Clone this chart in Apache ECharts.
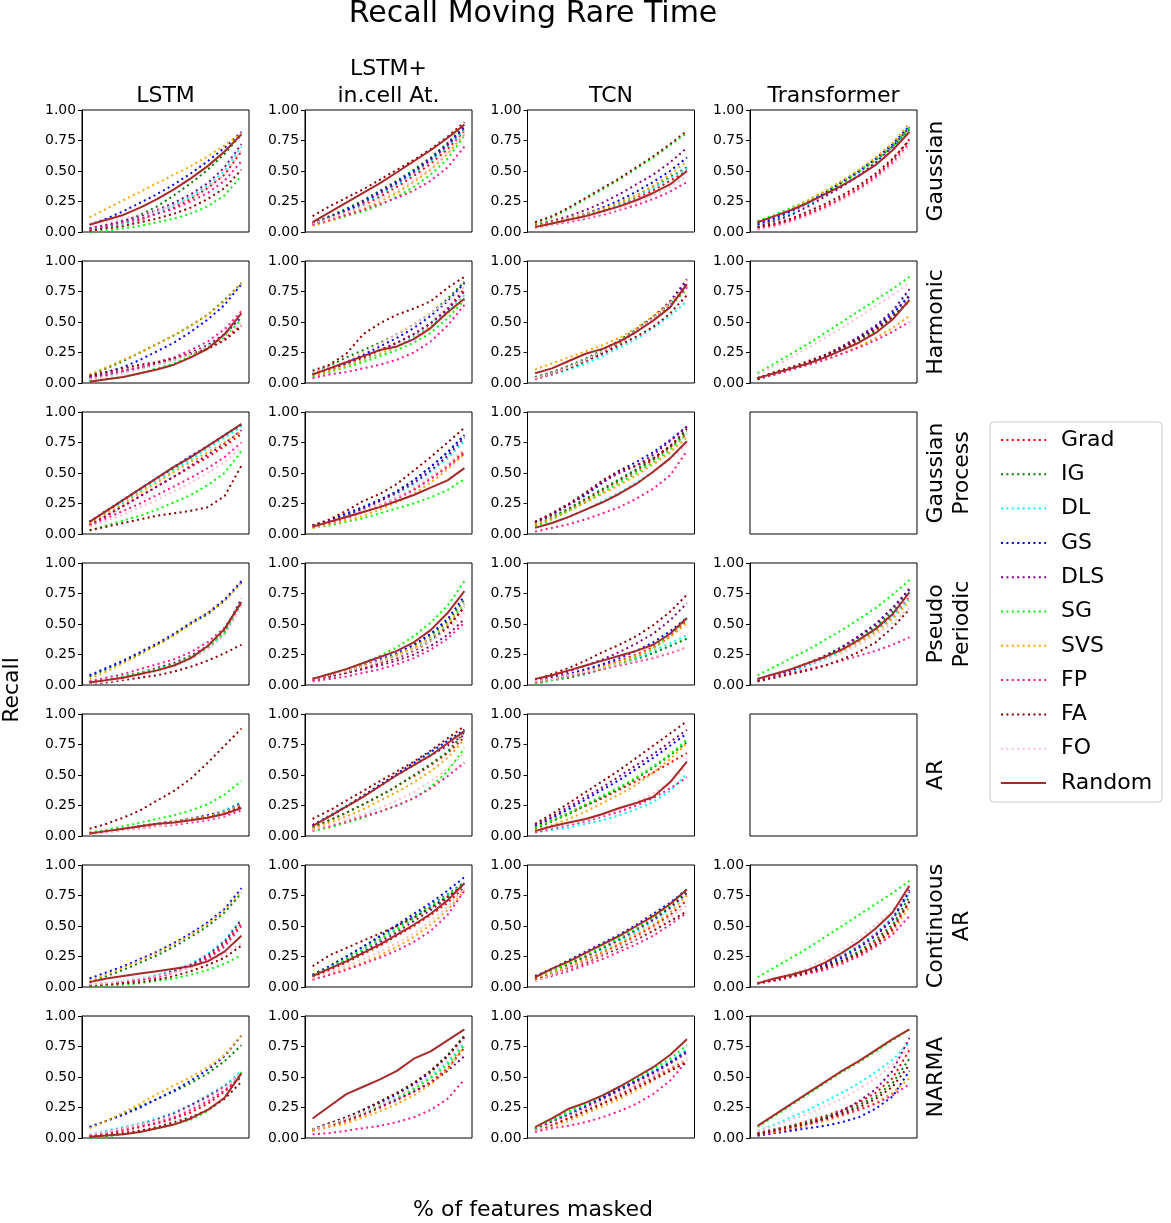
<!DOCTYPE html>
<html>
<head>
<meta charset="utf-8">
<title>Recall Moving Rare Time</title>
<script src="https://cdn.jsdelivr.net/npm/echarts@6/dist/echarts.min.js"></script>
<style>
  html, body { margin: 0; padding: 0; background: #fff; }
  #chart { width: 1171px; height: 1223px; }
</style>
</head>
<body>
<div id="chart"></div>
<script>
// methods, in legend order (each panel array below follows this order)
const methods = ['Grad', 'IG', 'DL', 'GS', 'DLS', 'SG', 'SVS', 'FP', 'FA', 'FO', 'Random']
const methodColors = ['#ff0000', '#008000', '#00ffff', '#0000ff', '#800080', '#00ff00', '#ffa500', '#ff1493', '#8b0000', '#ffc0cb', '#a52a2a']
const models = ['LSTM', 'LSTM+\nin.cell At.', 'TCN', 'Transformer']
const datasets = ['Gaussian', 'Harmonic', 'Gaussian\nProcess', 'Pseudo\nPeriodic', 'AR', 'Continuous\nAR', 'NARMA']
// masking steps along the (unlabelled) x axis
const maskSteps = [1, 2, 3, 4, 5, 6, 7, 8, 9, 10]
const yTicks = [0, 0.25, 0.5, 0.75, 1]

// ---- Gaussian ----
const lstmGaussian = [
    [0.02, 0.04, 0.07, 0.10, 0.15, 0.20, 0.27, 0.36, 0.47, 0.66],
    [0.02, 0.05, 0.09, 0.14, 0.21, 0.30, 0.40, 0.51, 0.64, 0.80],
    [0.02, 0.04, 0.07, 0.11, 0.16, 0.22, 0.29, 0.38, 0.50, 0.70],
    [0.06, 0.11, 0.17, 0.24, 0.31, 0.39, 0.48, 0.58, 0.69, 0.82],
    [0.03, 0.06, 0.09, 0.13, 0.18, 0.24, 0.31, 0.40, 0.53, 0.72],
    [0.00, 0.01, 0.03, 0.05, 0.08, 0.11, 0.15, 0.21, 0.30, 0.46],
    [0.12, 0.19, 0.26, 0.33, 0.40, 0.47, 0.54, 0.62, 0.71, 0.81],
    [0.03, 0.05, 0.08, 0.11, 0.15, 0.19, 0.25, 0.32, 0.42, 0.58],
    [0.01, 0.03, 0.05, 0.08, 0.11, 0.15, 0.20, 0.27, 0.36, 0.51],
    [0.07, 0.09, 0.11, 0.14, 0.18, 0.22, 0.28, 0.36, 0.47, 0.67],
    [0.06, 0.10, 0.14, 0.20, 0.27, 0.35, 0.44, 0.54, 0.66, 0.80]
]
const attnGaussian = [
    [0.06, 0.11, 0.16, 0.22, 0.29, 0.37, 0.46, 0.56, 0.68, 0.83],
    [0.07, 0.13, 0.19, 0.26, 0.34, 0.42, 0.51, 0.61, 0.73, 0.87],
    [0.06, 0.11, 0.17, 0.23, 0.31, 0.39, 0.48, 0.58, 0.70, 0.84],
    [0.07, 0.12, 0.18, 0.25, 0.33, 0.41, 0.50, 0.60, 0.72, 0.86],
    [0.07, 0.12, 0.17, 0.24, 0.32, 0.40, 0.49, 0.59, 0.71, 0.85],
    [0.06, 0.09, 0.13, 0.17, 0.22, 0.29, 0.37, 0.47, 0.60, 0.79],
    [0.05, 0.09, 0.14, 0.19, 0.25, 0.32, 0.41, 0.51, 0.64, 0.80],
    [0.06, 0.10, 0.14, 0.18, 0.23, 0.28, 0.34, 0.42, 0.53, 0.70],
    [0.13, 0.21, 0.28, 0.35, 0.43, 0.51, 0.59, 0.68, 0.78, 0.90],
    [0.07, 0.11, 0.16, 0.21, 0.27, 0.34, 0.42, 0.52, 0.65, 0.81],
    [0.08, 0.16, 0.24, 0.32, 0.40, 0.49, 0.58, 0.67, 0.77, 0.88]
]
const tcnGaussian = [
    [0.04, 0.06, 0.09, 0.13, 0.17, 0.22, 0.28, 0.34, 0.42, 0.50],
    [0.05, 0.07, 0.10, 0.14, 0.19, 0.24, 0.30, 0.37, 0.45, 0.53],
    [0.05, 0.07, 0.10, 0.14, 0.18, 0.23, 0.29, 0.36, 0.44, 0.52],
    [0.05, 0.08, 0.11, 0.15, 0.20, 0.26, 0.33, 0.41, 0.50, 0.61],
    [0.06, 0.09, 0.13, 0.18, 0.24, 0.31, 0.39, 0.47, 0.57, 0.69],
    [0.07, 0.12, 0.19, 0.27, 0.35, 0.43, 0.52, 0.61, 0.71, 0.81],
    [0.05, 0.08, 0.11, 0.15, 0.19, 0.24, 0.30, 0.38, 0.47, 0.58],
    [0.03, 0.06, 0.08, 0.11, 0.14, 0.18, 0.22, 0.27, 0.33, 0.41],
    [0.08, 0.13, 0.20, 0.28, 0.36, 0.44, 0.53, 0.62, 0.72, 0.83],
    [0.03, 0.06, 0.09, 0.12, 0.15, 0.19, 0.24, 0.30, 0.37, 0.46],
    [0.04, 0.07, 0.10, 0.13, 0.17, 0.21, 0.26, 0.32, 0.39, 0.50]
]
const trfGaussian = [
    [0.03, 0.06, 0.10, 0.15, 0.21, 0.28, 0.36, 0.46, 0.59, 0.76],
    [0.07, 0.12, 0.18, 0.25, 0.32, 0.40, 0.49, 0.59, 0.70, 0.84],
    [0.05, 0.10, 0.15, 0.22, 0.30, 0.38, 0.47, 0.57, 0.69, 0.84],
    [0.06, 0.11, 0.17, 0.24, 0.32, 0.41, 0.50, 0.60, 0.72, 0.87],
    [0.04, 0.09, 0.14, 0.21, 0.29, 0.37, 0.46, 0.57, 0.70, 0.86],
    [0.09, 0.14, 0.20, 0.26, 0.33, 0.41, 0.50, 0.59, 0.71, 0.85],
    [0.08, 0.13, 0.19, 0.26, 0.34, 0.42, 0.51, 0.61, 0.73, 0.89],
    [0.02, 0.05, 0.09, 0.14, 0.20, 0.27, 0.35, 0.45, 0.57, 0.73],
    [0.04, 0.07, 0.11, 0.17, 0.23, 0.30, 0.38, 0.48, 0.60, 0.75],
    [0.02, 0.04, 0.08, 0.13, 0.19, 0.26, 0.34, 0.43, 0.55, 0.70],
    [0.08, 0.13, 0.18, 0.24, 0.31, 0.38, 0.46, 0.55, 0.67, 0.82]
]

// ---- Harmonic ----
const lstmHarmonic = [
    [0.03, 0.06, 0.09, 0.12, 0.15, 0.19, 0.24, 0.29, 0.37, 0.47],
    [0.06, 0.12, 0.18, 0.25, 0.32, 0.39, 0.47, 0.56, 0.68, 0.82],
    [0.04, 0.06, 0.09, 0.12, 0.15, 0.19, 0.24, 0.31, 0.40, 0.53],
    [0.05, 0.09, 0.13, 0.19, 0.26, 0.33, 0.42, 0.52, 0.64, 0.81],
    [0.05, 0.07, 0.10, 0.13, 0.16, 0.20, 0.25, 0.31, 0.40, 0.54],
    [0.02, 0.03, 0.05, 0.08, 0.12, 0.16, 0.22, 0.29, 0.38, 0.52],
    [0.07, 0.13, 0.19, 0.25, 0.32, 0.39, 0.47, 0.56, 0.67, 0.82],
    [0.04, 0.07, 0.10, 0.13, 0.17, 0.21, 0.27, 0.34, 0.44, 0.59],
    [0.06, 0.09, 0.12, 0.15, 0.17, 0.20, 0.24, 0.28, 0.35, 0.46],
    [0.03, 0.05, 0.08, 0.11, 0.15, 0.19, 0.24, 0.30, 0.38, 0.50],
    [0.01, 0.03, 0.05, 0.08, 0.11, 0.15, 0.21, 0.28, 0.40, 0.57]
]
const attnHarmonic = [
    [0.07, 0.11, 0.16, 0.21, 0.27, 0.33, 0.40, 0.49, 0.61, 0.77],
    [0.08, 0.14, 0.21, 0.27, 0.33, 0.40, 0.48, 0.57, 0.69, 0.83],
    [0.06, 0.10, 0.15, 0.19, 0.24, 0.30, 0.38, 0.47, 0.58, 0.72],
    [0.07, 0.12, 0.17, 0.23, 0.30, 0.37, 0.45, 0.55, 0.67, 0.82],
    [0.07, 0.11, 0.16, 0.21, 0.27, 0.33, 0.40, 0.49, 0.60, 0.75],
    [0.05, 0.09, 0.13, 0.17, 0.22, 0.27, 0.33, 0.41, 0.53, 0.68],
    [0.06, 0.10, 0.14, 0.19, 0.24, 0.30, 0.37, 0.46, 0.57, 0.70],
    [0.04, 0.07, 0.09, 0.12, 0.15, 0.19, 0.25, 0.34, 0.47, 0.64],
    [0.10, 0.15, 0.24, 0.40, 0.49, 0.56, 0.61, 0.67, 0.78, 0.87],
    [0.08, 0.13, 0.18, 0.25, 0.32, 0.40, 0.48, 0.57, 0.67, 0.79],
    [0.07, 0.12, 0.17, 0.22, 0.27, 0.30, 0.36, 0.45, 0.58, 0.69]
]
const tcnHarmonic = [
    [0.04, 0.08, 0.13, 0.19, 0.26, 0.34, 0.43, 0.53, 0.64, 0.79],
    [0.05, 0.09, 0.14, 0.20, 0.27, 0.35, 0.44, 0.54, 0.65, 0.80],
    [0.04, 0.07, 0.11, 0.16, 0.22, 0.29, 0.36, 0.45, 0.55, 0.67],
    [0.04, 0.08, 0.13, 0.19, 0.26, 0.34, 0.43, 0.53, 0.66, 0.82],
    [0.04, 0.08, 0.13, 0.19, 0.26, 0.34, 0.43, 0.54, 0.67, 0.85],
    [0.04, 0.08, 0.13, 0.19, 0.26, 0.33, 0.42, 0.52, 0.63, 0.77],
    [0.11, 0.16, 0.21, 0.26, 0.31, 0.37, 0.45, 0.55, 0.66, 0.80],
    [0.03, 0.07, 0.12, 0.18, 0.25, 0.33, 0.42, 0.52, 0.64, 0.78],
    [0.04, 0.08, 0.12, 0.18, 0.24, 0.31, 0.38, 0.46, 0.57, 0.72],
    [0.04, 0.08, 0.13, 0.19, 0.26, 0.34, 0.43, 0.53, 0.65, 0.80],
    [0.08, 0.12, 0.18, 0.24, 0.28, 0.34, 0.42, 0.51, 0.62, 0.81]
]
const trfHarmonic = [
    [0.04, 0.08, 0.12, 0.17, 0.22, 0.28, 0.36, 0.45, 0.56, 0.72],
    [0.04, 0.08, 0.12, 0.16, 0.21, 0.27, 0.34, 0.43, 0.54, 0.68],
    [0.04, 0.08, 0.12, 0.17, 0.22, 0.29, 0.37, 0.46, 0.58, 0.75],
    [0.03, 0.07, 0.11, 0.16, 0.22, 0.29, 0.37, 0.46, 0.57, 0.71],
    [0.04, 0.08, 0.12, 0.17, 0.23, 0.30, 0.38, 0.47, 0.59, 0.77],
    [0.08, 0.16, 0.24, 0.32, 0.41, 0.50, 0.59, 0.68, 0.77, 0.87],
    [0.04, 0.07, 0.11, 0.15, 0.19, 0.24, 0.30, 0.37, 0.45, 0.55],
    [0.04, 0.07, 0.11, 0.15, 0.19, 0.24, 0.29, 0.35, 0.42, 0.50],
    [0.04, 0.09, 0.13, 0.18, 0.23, 0.29, 0.36, 0.44, 0.54, 0.67],
    [0.07, 0.14, 0.21, 0.29, 0.37, 0.45, 0.54, 0.63, 0.72, 0.82],
    [0.04, 0.08, 0.12, 0.16, 0.21, 0.27, 0.33, 0.41, 0.52, 0.68]
]

// ---- Gaussian Process ----
const lstmGP = [
    [0.08, 0.15, 0.23, 0.31, 0.39, 0.47, 0.55, 0.63, 0.72, 0.82],
    [0.10, 0.19, 0.28, 0.37, 0.46, 0.54, 0.63, 0.72, 0.81, 0.89],
    [0.10, 0.18, 0.27, 0.35, 0.44, 0.52, 0.61, 0.70, 0.79, 0.88],
    [0.10, 0.19, 0.28, 0.37, 0.46, 0.55, 0.64, 0.72, 0.81, 0.90],
    [0.07, 0.15, 0.23, 0.31, 0.39, 0.47, 0.56, 0.65, 0.74, 0.85],
    [0.03, 0.07, 0.11, 0.15, 0.20, 0.26, 0.32, 0.40, 0.50, 0.68],
    [0.09, 0.17, 0.25, 0.34, 0.42, 0.51, 0.59, 0.67, 0.75, 0.84],
    [0.07, 0.13, 0.19, 0.25, 0.32, 0.39, 0.46, 0.54, 0.63, 0.75],
    [0.03, 0.06, 0.09, 0.12, 0.15, 0.17, 0.19, 0.22, 0.31, 0.56],
    [0.06, 0.11, 0.16, 0.22, 0.28, 0.35, 0.42, 0.50, 0.59, 0.71],
    [0.10, 0.19, 0.28, 0.37, 0.46, 0.55, 0.63, 0.72, 0.81, 0.90]
]
const attnGP = [
    [0.06, 0.10, 0.14, 0.19, 0.24, 0.30, 0.37, 0.46, 0.56, 0.68],
    [0.07, 0.11, 0.16, 0.22, 0.28, 0.35, 0.44, 0.55, 0.67, 0.81],
    [0.06, 0.10, 0.15, 0.21, 0.27, 0.33, 0.41, 0.51, 0.62, 0.76],
    [0.07, 0.11, 0.17, 0.22, 0.28, 0.35, 0.44, 0.55, 0.67, 0.81],
    [0.06, 0.10, 0.15, 0.21, 0.27, 0.34, 0.42, 0.52, 0.64, 0.79],
    [0.05, 0.07, 0.10, 0.13, 0.17, 0.21, 0.25, 0.30, 0.36, 0.45],
    [0.05, 0.08, 0.11, 0.15, 0.20, 0.26, 0.33, 0.42, 0.53, 0.66],
    [0.06, 0.09, 0.13, 0.18, 0.23, 0.29, 0.36, 0.45, 0.55, 0.66],
    [0.07, 0.12, 0.19, 0.27, 0.33, 0.41, 0.52, 0.63, 0.75, 0.87],
    [0.06, 0.10, 0.14, 0.19, 0.24, 0.30, 0.38, 0.47, 0.57, 0.70],
    [0.06, 0.10, 0.14, 0.18, 0.22, 0.27, 0.32, 0.38, 0.44, 0.54]
]
const tcnGP = [
    [0.07, 0.13, 0.20, 0.28, 0.36, 0.44, 0.52, 0.61, 0.71, 0.82],
    [0.08, 0.14, 0.21, 0.29, 0.37, 0.45, 0.53, 0.62, 0.72, 0.84],
    [0.05, 0.09, 0.14, 0.20, 0.27, 0.34, 0.42, 0.51, 0.62, 0.76],
    [0.10, 0.16, 0.24, 0.32, 0.42, 0.52, 0.59, 0.67, 0.77, 0.88],
    [0.09, 0.16, 0.24, 0.33, 0.43, 0.50, 0.56, 0.65, 0.76, 0.88],
    [0.06, 0.12, 0.19, 0.26, 0.34, 0.42, 0.50, 0.59, 0.69, 0.82],
    [0.08, 0.13, 0.19, 0.26, 0.33, 0.40, 0.48, 0.57, 0.67, 0.79],
    [0.02, 0.05, 0.08, 0.12, 0.17, 0.22, 0.29, 0.37, 0.48, 0.68],
    [0.10, 0.17, 0.25, 0.34, 0.44, 0.52, 0.56, 0.62, 0.72, 0.86],
    [0.05, 0.09, 0.14, 0.20, 0.26, 0.33, 0.41, 0.50, 0.61, 0.73],
    [0.05, 0.09, 0.14, 0.20, 0.26, 0.33, 0.41, 0.51, 0.62, 0.76]
]

// ---- Pseudo Periodic ----
const lstmPP = [
    [0.02, 0.04, 0.06, 0.09, 0.12, 0.16, 0.22, 0.30, 0.42, 0.67],
    [0.07, 0.13, 0.19, 0.26, 0.33, 0.41, 0.50, 0.58, 0.69, 0.84],
    [0.02, 0.04, 0.07, 0.10, 0.13, 0.17, 0.23, 0.30, 0.42, 0.68],
    [0.08, 0.14, 0.20, 0.27, 0.34, 0.42, 0.51, 0.59, 0.70, 0.85],
    [0.02, 0.04, 0.07, 0.10, 0.14, 0.18, 0.24, 0.32, 0.44, 0.71],
    [0.02, 0.04, 0.07, 0.10, 0.13, 0.17, 0.23, 0.31, 0.43, 0.69],
    [0.05, 0.11, 0.18, 0.25, 0.33, 0.41, 0.50, 0.59, 0.69, 0.84],
    [0.03, 0.06, 0.09, 0.13, 0.17, 0.21, 0.27, 0.35, 0.47, 0.67],
    [0.01, 0.02, 0.04, 0.06, 0.08, 0.11, 0.15, 0.20, 0.26, 0.33],
    [0.01, 0.03, 0.05, 0.08, 0.11, 0.15, 0.21, 0.29, 0.41, 0.64],
    [0.02, 0.04, 0.06, 0.09, 0.12, 0.16, 0.22, 0.32, 0.46, 0.68]
]
const attnPP = [
    [0.05, 0.07, 0.10, 0.14, 0.18, 0.23, 0.29, 0.37, 0.48, 0.64],
    [0.05, 0.08, 0.12, 0.16, 0.20, 0.25, 0.32, 0.41, 0.52, 0.70],
    [0.05, 0.08, 0.11, 0.15, 0.19, 0.24, 0.30, 0.38, 0.49, 0.66],
    [0.05, 0.08, 0.12, 0.16, 0.21, 0.26, 0.33, 0.42, 0.54, 0.73],
    [0.04, 0.07, 0.10, 0.13, 0.16, 0.20, 0.25, 0.32, 0.41, 0.54],
    [0.05, 0.09, 0.13, 0.18, 0.24, 0.31, 0.40, 0.51, 0.65, 0.85],
    [0.05, 0.08, 0.12, 0.16, 0.20, 0.25, 0.31, 0.39, 0.50, 0.67],
    [0.03, 0.05, 0.07, 0.10, 0.13, 0.17, 0.22, 0.29, 0.38, 0.51],
    [0.05, 0.07, 0.10, 0.14, 0.18, 0.22, 0.28, 0.36, 0.47, 0.64],
    [0.05, 0.08, 0.11, 0.15, 0.19, 0.23, 0.29, 0.36, 0.45, 0.59],
    [0.05, 0.09, 0.13, 0.18, 0.23, 0.28, 0.35, 0.45, 0.59, 0.77]
]
const tcnPP = [
    [0.02, 0.05, 0.08, 0.12, 0.16, 0.20, 0.25, 0.31, 0.40, 0.53],
    [0.01, 0.04, 0.06, 0.09, 0.13, 0.17, 0.21, 0.26, 0.32, 0.38],
    [0.02, 0.04, 0.07, 0.10, 0.14, 0.18, 0.22, 0.28, 0.34, 0.41],
    [0.03, 0.06, 0.09, 0.13, 0.17, 0.22, 0.28, 0.35, 0.44, 0.55],
    [0.03, 0.07, 0.11, 0.16, 0.21, 0.27, 0.34, 0.42, 0.53, 0.67],
    [0.01, 0.04, 0.07, 0.10, 0.14, 0.18, 0.23, 0.30, 0.40, 0.54],
    [0.02, 0.05, 0.08, 0.11, 0.15, 0.19, 0.24, 0.30, 0.39, 0.51],
    [0.02, 0.05, 0.07, 0.10, 0.13, 0.16, 0.19, 0.22, 0.26, 0.31],
    [0.04, 0.09, 0.14, 0.20, 0.27, 0.33, 0.40, 0.49, 0.60, 0.74],
    [0.03, 0.05, 0.08, 0.11, 0.14, 0.17, 0.20, 0.23, 0.27, 0.31],
    [0.05, 0.08, 0.12, 0.16, 0.20, 0.24, 0.28, 0.33, 0.42, 0.55]
]
const trfPP = [
    [0.04, 0.08, 0.12, 0.17, 0.22, 0.29, 0.36, 0.45, 0.56, 0.72],
    [0.05, 0.09, 0.13, 0.18, 0.24, 0.31, 0.39, 0.48, 0.60, 0.76],
    [0.03, 0.07, 0.11, 0.16, 0.21, 0.28, 0.36, 0.45, 0.56, 0.71],
    [0.04, 0.08, 0.12, 0.17, 0.23, 0.31, 0.40, 0.50, 0.63, 0.78],
    [0.04, 0.08, 0.13, 0.18, 0.24, 0.31, 0.40, 0.50, 0.63, 0.79],
    [0.08, 0.15, 0.22, 0.29, 0.37, 0.45, 0.54, 0.63, 0.74, 0.86],
    [0.05, 0.09, 0.13, 0.18, 0.23, 0.28, 0.35, 0.43, 0.54, 0.69],
    [0.04, 0.07, 0.10, 0.13, 0.16, 0.20, 0.24, 0.28, 0.33, 0.39],
    [0.03, 0.06, 0.09, 0.12, 0.16, 0.21, 0.27, 0.35, 0.47, 0.62],
    [0.05, 0.09, 0.13, 0.17, 0.21, 0.26, 0.33, 0.41, 0.51, 0.63],
    [0.05, 0.09, 0.13, 0.18, 0.23, 0.29, 0.37, 0.46, 0.58, 0.76]
]

// ---- AR ----
const lstmAR = [
    [0.02, 0.04, 0.06, 0.07, 0.09, 0.11, 0.13, 0.15, 0.18, 0.24],
    [0.02, 0.04, 0.06, 0.08, 0.10, 0.12, 0.14, 0.16, 0.19, 0.25],
    [0.02, 0.04, 0.06, 0.08, 0.10, 0.12, 0.14, 0.17, 0.21, 0.28],
    [0.02, 0.04, 0.06, 0.08, 0.10, 0.12, 0.14, 0.17, 0.20, 0.27],
    [0.02, 0.04, 0.06, 0.08, 0.10, 0.12, 0.14, 0.16, 0.19, 0.25],
    [0.03, 0.05, 0.08, 0.11, 0.14, 0.17, 0.21, 0.26, 0.34, 0.45],
    [0.02, 0.04, 0.06, 0.08, 0.10, 0.12, 0.14, 0.16, 0.20, 0.26],
    [0.02, 0.03, 0.05, 0.06, 0.08, 0.09, 0.11, 0.13, 0.16, 0.21],
    [0.06, 0.10, 0.15, 0.21, 0.29, 0.37, 0.47, 0.60, 0.74, 0.88],
    [0.01, 0.03, 0.05, 0.06, 0.08, 0.10, 0.12, 0.14, 0.17, 0.23],
    [0.02, 0.04, 0.06, 0.08, 0.10, 0.11, 0.13, 0.15, 0.18, 0.23]
]
const attnAR = [
    [0.07, 0.13, 0.19, 0.26, 0.33, 0.41, 0.49, 0.58, 0.68, 0.81],
    [0.07, 0.13, 0.19, 0.26, 0.33, 0.41, 0.50, 0.59, 0.69, 0.85],
    [0.09, 0.17, 0.25, 0.33, 0.42, 0.50, 0.59, 0.68, 0.77, 0.86],
    [0.09, 0.16, 0.24, 0.33, 0.42, 0.51, 0.60, 0.69, 0.78, 0.87],
    [0.09, 0.16, 0.24, 0.33, 0.41, 0.50, 0.58, 0.66, 0.74, 0.83],
    [0.04, 0.07, 0.11, 0.15, 0.20, 0.25, 0.31, 0.40, 0.53, 0.72],
    [0.06, 0.11, 0.16, 0.22, 0.29, 0.36, 0.44, 0.53, 0.64, 0.79],
    [0.05, 0.08, 0.12, 0.16, 0.20, 0.25, 0.31, 0.39, 0.49, 0.60],
    [0.14, 0.21, 0.29, 0.37, 0.45, 0.53, 0.61, 0.70, 0.80, 0.90],
    [0.05, 0.09, 0.13, 0.18, 0.23, 0.29, 0.36, 0.45, 0.55, 0.68],
    [0.08, 0.16, 0.24, 0.32, 0.41, 0.50, 0.58, 0.66, 0.76, 0.86]
]
const tcnAR = [
    [0.08, 0.13, 0.19, 0.25, 0.31, 0.38, 0.45, 0.52, 0.60, 0.68],
    [0.06, 0.12, 0.18, 0.25, 0.32, 0.39, 0.47, 0.56, 0.66, 0.77],
    [0.03, 0.05, 0.07, 0.10, 0.13, 0.17, 0.22, 0.28, 0.37, 0.51],
    [0.08, 0.15, 0.22, 0.30, 0.38, 0.46, 0.55, 0.64, 0.74, 0.84],
    [0.09, 0.16, 0.24, 0.32, 0.40, 0.49, 0.58, 0.67, 0.77, 0.87],
    [0.07, 0.13, 0.19, 0.26, 0.33, 0.40, 0.48, 0.57, 0.67, 0.79],
    [0.05, 0.09, 0.14, 0.20, 0.27, 0.34, 0.42, 0.52, 0.63, 0.76],
    [0.03, 0.06, 0.09, 0.12, 0.16, 0.20, 0.25, 0.31, 0.39, 0.48],
    [0.10, 0.18, 0.27, 0.36, 0.45, 0.54, 0.64, 0.74, 0.84, 0.94],
    [0.04, 0.07, 0.10, 0.13, 0.17, 0.22, 0.28, 0.35, 0.44, 0.57],
    [0.04, 0.08, 0.11, 0.14, 0.18, 0.23, 0.27, 0.32, 0.44, 0.61]
]

// ---- Continuous AR ----
const lstmCAR = [
    [0.01, 0.02, 0.04, 0.06, 0.08, 0.12, 0.17, 0.24, 0.35, 0.52],
    [0.04, 0.09, 0.14, 0.20, 0.26, 0.33, 0.41, 0.50, 0.61, 0.77],
    [0.02, 0.03, 0.05, 0.07, 0.10, 0.14, 0.19, 0.27, 0.38, 0.56],
    [0.07, 0.12, 0.17, 0.23, 0.29, 0.36, 0.44, 0.53, 0.64, 0.81],
    [0.01, 0.02, 0.04, 0.06, 0.09, 0.13, 0.18, 0.26, 0.37, 0.55],
    [0.00, 0.01, 0.02, 0.03, 0.05, 0.07, 0.10, 0.14, 0.19, 0.26],
    [0.05, 0.10, 0.16, 0.22, 0.28, 0.35, 0.43, 0.52, 0.63, 0.78],
    [0.02, 0.03, 0.04, 0.06, 0.08, 0.12, 0.16, 0.23, 0.33, 0.50],
    [0.01, 0.02, 0.03, 0.04, 0.06, 0.09, 0.13, 0.18, 0.24, 0.34],
    [0.02, 0.03, 0.05, 0.07, 0.09, 0.12, 0.16, 0.21, 0.27, 0.36],
    [0.04, 0.07, 0.09, 0.11, 0.13, 0.15, 0.17, 0.21, 0.29, 0.42]
]
const attnCAR = [
    [0.08, 0.14, 0.20, 0.27, 0.34, 0.42, 0.50, 0.59, 0.69, 0.82],
    [0.10, 0.17, 0.25, 0.33, 0.41, 0.50, 0.58, 0.67, 0.76, 0.86],
    [0.09, 0.16, 0.23, 0.31, 0.39, 0.48, 0.57, 0.66, 0.75, 0.85],
    [0.10, 0.17, 0.25, 0.33, 0.42, 0.51, 0.60, 0.69, 0.79, 0.90],
    [0.09, 0.15, 0.22, 0.29, 0.37, 0.45, 0.54, 0.63, 0.73, 0.85],
    [0.09, 0.16, 0.23, 0.31, 0.39, 0.47, 0.56, 0.65, 0.74, 0.85],
    [0.06, 0.10, 0.15, 0.20, 0.26, 0.33, 0.41, 0.51, 0.63, 0.79],
    [0.06, 0.10, 0.14, 0.19, 0.24, 0.30, 0.37, 0.46, 0.59, 0.79],
    [0.17, 0.26, 0.32, 0.38, 0.44, 0.50, 0.57, 0.65, 0.74, 0.84],
    [0.07, 0.12, 0.17, 0.23, 0.29, 0.36, 0.44, 0.54, 0.66, 0.81],
    [0.09, 0.15, 0.21, 0.28, 0.35, 0.43, 0.51, 0.60, 0.71, 0.85]
]
const tcnCAR = [
    [0.06, 0.11, 0.16, 0.22, 0.28, 0.35, 0.42, 0.50, 0.59, 0.71],
    [0.07, 0.13, 0.19, 0.25, 0.32, 0.39, 0.47, 0.56, 0.66, 0.79],
    [0.07, 0.12, 0.18, 0.24, 0.31, 0.38, 0.45, 0.54, 0.64, 0.76],
    [0.09, 0.15, 0.22, 0.29, 0.36, 0.43, 0.51, 0.60, 0.69, 0.80],
    [0.07, 0.13, 0.19, 0.25, 0.32, 0.39, 0.47, 0.55, 0.65, 0.77],
    [0.07, 0.13, 0.20, 0.26, 0.33, 0.40, 0.48, 0.57, 0.67, 0.80],
    [0.07, 0.12, 0.17, 0.23, 0.29, 0.36, 0.43, 0.51, 0.61, 0.75],
    [0.05, 0.09, 0.13, 0.18, 0.23, 0.29, 0.35, 0.42, 0.51, 0.61],
    [0.06, 0.10, 0.15, 0.20, 0.26, 0.32, 0.39, 0.46, 0.54, 0.62],
    [0.05, 0.10, 0.15, 0.21, 0.27, 0.33, 0.40, 0.48, 0.57, 0.67],
    [0.08, 0.15, 0.21, 0.28, 0.35, 0.42, 0.50, 0.58, 0.68, 0.80]
]
const trfCAR = [
    [0.03, 0.06, 0.09, 0.12, 0.16, 0.21, 0.28, 0.37, 0.49, 0.70],
    [0.03, 0.06, 0.09, 0.12, 0.17, 0.22, 0.29, 0.39, 0.51, 0.74],
    [0.03, 0.06, 0.10, 0.14, 0.19, 0.26, 0.34, 0.44, 0.57, 0.77],
    [0.03, 0.06, 0.09, 0.13, 0.18, 0.24, 0.32, 0.42, 0.55, 0.78],
    [0.03, 0.06, 0.10, 0.14, 0.19, 0.25, 0.33, 0.43, 0.56, 0.80],
    [0.08, 0.16, 0.24, 0.32, 0.41, 0.50, 0.59, 0.68, 0.77, 0.87],
    [0.03, 0.06, 0.09, 0.12, 0.16, 0.20, 0.26, 0.34, 0.45, 0.66],
    [0.03, 0.05, 0.08, 0.11, 0.14, 0.19, 0.25, 0.33, 0.43, 0.58],
    [0.03, 0.06, 0.09, 0.12, 0.16, 0.21, 0.27, 0.35, 0.47, 0.70],
    [0.04, 0.07, 0.11, 0.16, 0.23, 0.31, 0.40, 0.51, 0.63, 0.80],
    [0.03, 0.07, 0.10, 0.14, 0.20, 0.28, 0.37, 0.48, 0.61, 0.83]
]

// ---- NARMA ----
const lstmNARMA = [
    [0.01, 0.03, 0.06, 0.09, 0.12, 0.16, 0.21, 0.28, 0.38, 0.50],
    [0.09, 0.14, 0.20, 0.26, 0.32, 0.38, 0.45, 0.53, 0.63, 0.76],
    [0.03, 0.06, 0.09, 0.12, 0.16, 0.21, 0.27, 0.35, 0.43, 0.55],
    [0.09, 0.14, 0.19, 0.25, 0.32, 0.39, 0.47, 0.56, 0.67, 0.84],
    [0.02, 0.05, 0.08, 0.11, 0.15, 0.20, 0.27, 0.34, 0.42, 0.53],
    [0.00, 0.01, 0.03, 0.05, 0.08, 0.11, 0.15, 0.22, 0.33, 0.54],
    [0.08, 0.14, 0.21, 0.28, 0.36, 0.43, 0.50, 0.58, 0.68, 0.84],
    [0.02, 0.04, 0.07, 0.10, 0.13, 0.17, 0.23, 0.30, 0.39, 0.51],
    [0.01, 0.02, 0.04, 0.06, 0.09, 0.13, 0.17, 0.23, 0.32, 0.46],
    [0.03, 0.05, 0.08, 0.11, 0.14, 0.19, 0.25, 0.32, 0.41, 0.54],
    [0.01, 0.02, 0.03, 0.05, 0.08, 0.11, 0.16, 0.23, 0.33, 0.53]
]
const attnNARMA = [
    [0.06, 0.10, 0.14, 0.19, 0.25, 0.31, 0.38, 0.46, 0.57, 0.74],
    [0.07, 0.12, 0.17, 0.23, 0.30, 0.37, 0.45, 0.55, 0.68, 0.84],
    [0.07, 0.11, 0.16, 0.21, 0.27, 0.34, 0.41, 0.50, 0.62, 0.78],
    [0.07, 0.12, 0.17, 0.23, 0.29, 0.36, 0.44, 0.54, 0.67, 0.83],
    [0.07, 0.11, 0.15, 0.20, 0.26, 0.32, 0.38, 0.45, 0.55, 0.67],
    [0.07, 0.11, 0.16, 0.21, 0.27, 0.33, 0.40, 0.49, 0.60, 0.76],
    [0.06, 0.09, 0.12, 0.17, 0.22, 0.28, 0.35, 0.44, 0.56, 0.75],
    [0.03, 0.04, 0.06, 0.08, 0.10, 0.13, 0.17, 0.23, 0.32, 0.48],
    [0.07, 0.12, 0.17, 0.23, 0.30, 0.37, 0.45, 0.55, 0.67, 0.83],
    [0.07, 0.11, 0.16, 0.21, 0.27, 0.34, 0.42, 0.52, 0.65, 0.81],
    [0.16, 0.26, 0.36, 0.42, 0.48, 0.55, 0.65, 0.71, 0.80, 0.89]
]
const tcnNARMA = [
    [0.06, 0.11, 0.17, 0.23, 0.29, 0.36, 0.43, 0.50, 0.57, 0.64],
    [0.08, 0.14, 0.21, 0.27, 0.33, 0.40, 0.47, 0.54, 0.62, 0.72],
    [0.08, 0.14, 0.21, 0.27, 0.34, 0.41, 0.48, 0.55, 0.63, 0.73],
    [0.07, 0.13, 0.19, 0.26, 0.33, 0.40, 0.47, 0.54, 0.62, 0.71],
    [0.07, 0.13, 0.19, 0.25, 0.32, 0.39, 0.46, 0.53, 0.61, 0.70],
    [0.08, 0.15, 0.22, 0.28, 0.35, 0.42, 0.49, 0.57, 0.65, 0.76],
    [0.06, 0.10, 0.14, 0.20, 0.26, 0.32, 0.39, 0.47, 0.55, 0.63],
    [0.05, 0.08, 0.10, 0.13, 0.17, 0.22, 0.28, 0.36, 0.47, 0.63],
    [0.06, 0.11, 0.16, 0.22, 0.28, 0.34, 0.41, 0.48, 0.55, 0.62],
    [0.06, 0.12, 0.18, 0.24, 0.30, 0.37, 0.44, 0.51, 0.58, 0.65],
    [0.09, 0.16, 0.24, 0.29, 0.35, 0.42, 0.50, 0.58, 0.68, 0.81]
]
const trfNARMA = [
    [0.04, 0.07, 0.10, 0.14, 0.18, 0.23, 0.29, 0.37, 0.49, 0.72],
    [0.04, 0.07, 0.10, 0.13, 0.17, 0.21, 0.27, 0.34, 0.45, 0.65],
    [0.06, 0.11, 0.17, 0.23, 0.30, 0.37, 0.45, 0.54, 0.64, 0.78],
    [0.02, 0.04, 0.06, 0.08, 0.10, 0.13, 0.17, 0.24, 0.34, 0.55],
    [0.02, 0.04, 0.07, 0.11, 0.16, 0.22, 0.30, 0.40, 0.55, 0.82],
    [0.09, 0.18, 0.27, 0.36, 0.45, 0.54, 0.62, 0.71, 0.80, 0.89],
    [0.03, 0.05, 0.08, 0.11, 0.14, 0.18, 0.23, 0.29, 0.37, 0.49],
    [0.04, 0.06, 0.09, 0.12, 0.15, 0.19, 0.23, 0.28, 0.35, 0.44],
    [0.03, 0.06, 0.09, 0.12, 0.16, 0.20, 0.25, 0.32, 0.42, 0.60],
    [0.06, 0.10, 0.15, 0.20, 0.26, 0.32, 0.40, 0.49, 0.60, 0.74],
    [0.10, 0.19, 0.28, 0.37, 0.46, 0.55, 0.63, 0.72, 0.81, 0.89]
]

// rows = datasets, columns = models; null = no result (empty frame)
const panels = [
    [lstmGaussian, attnGaussian, tcnGaussian, trfGaussian],
    [lstmHarmonic, attnHarmonic, tcnHarmonic, trfHarmonic],
    [lstmGP, attnGP, tcnGP, null],
    [lstmPP, attnPP, tcnPP, trfPP],
    [lstmAR, attnAR, tcnAR, null],
    [lstmCAR, attnCAR, tcnCAR, trfCAR],
    [lstmNARMA, attnNARMA, tcnNARMA, trfNARMA]
]

// layout (pixels)
const colLeft = [82, 305, 527.5, 750]
const rowTop = [110, 261, 412, 563, 714, 865, 1016]
const cellW = 167
const cellH = 122
const FONT = 'DejaVu Sans'

const chart = echarts.init(document.getElementById('chart'), null, { renderer: 'canvas' })

const grid = []
const xAxis = []
const yAxis = []
const series = []
const graphic = []

panels.forEach((row, r) => {
    row.forEach((panel, c) => {
        const idx = grid.length
        grid.push({
            left: colLeft[c],
            top: rowTop[r],
            width: cellW,
            height: cellH,
            show: true,
            borderColor: '#000',
            borderWidth: 1,
            backgroundColor: 'transparent'
        })
        xAxis.push({
            type: 'value',
            gridIndex: idx,
            min: 0.55,
            max: 10.45,
            show: false
        })
        yAxis.push({
            type: 'value',
            gridIndex: idx,
            min: 0,
            max: 1,
            interval: 0.25,
            show: panel !== null,
            axisLine: { show: true, lineStyle: { color: '#000', width: 1 } },
            axisTick: { show: true, length: 4, lineStyle: { color: '#000', width: 1 } },
            splitLine: { show: false },
            axisLabel: {
                margin: 6,
                color: '#000',
                fontFamily: FONT,
                fontSize: 13.9,
                formatter: v => v.toFixed(2)
            }
        })
        if (!panel) return
        panel.forEach((vals, m) => {
            const isRandom = methods[m] === 'Random'
            series.push({
                name: methods[m],
                type: 'line',
                xAxisIndex: idx,
                yAxisIndex: idx,
                data: maskSteps.map((x, k) => [x, vals[k]]),
                symbol: 'none',
                showSymbol: false,
                silent: true,
                z: 2 + m,
                color: methodColors[m],
                lineStyle: {
                    color: methodColors[m],
                    width: 2,
                    type: isRandom ? 'solid' : [2, 3.4],
                    cap: 'butt'
                }
            })
        })
    })
})

// main title, centred over the panel block
graphic.push({
    type: 'text',
    x: 533,
    y: 14,
    style: {
        text: 'Recall Moving Rare Time',
        font: '30px ' + FONT,
        fill: '#000',
        textAlign: 'center',
        textVerticalAlign: 'middle'
    }
})

// column titles
models.forEach((name, c) => {
    graphic.push({
        type: 'text',
        x: colLeft[c] + cellW / 2,
        y: 110,
        style: {
            text: name,
            font: '22px ' + FONT,
            fill: '#000',
            textAlign: 'center',
            textVerticalAlign: 'bottom',
            lineHeight: 27
        }
    })
})

// row labels, rotated, right of the last column
datasets.forEach((name, r) => {
    graphic.push({
        type: 'text',
        x: 923,
        y: rowTop[r] + cellH / 2,
        rotation: Math.PI / 2,
        style: {
            text: name,
            font: '22px ' + FONT,
            fill: '#000',
            textAlign: 'center',
            textVerticalAlign: 'top',
            lineHeight: 26
        }
    })
})

// shared axis labels
graphic.push({
    type: 'text',
    x: 533,
    y: 1210,
    style: { text: '% of features masked', font: '22px ' + FONT, fill: '#000', textAlign: 'center', textVerticalAlign: 'middle' }
})
graphic.push({
    type: 'text',
    x: 12,
    y: 690,
    rotation: Math.PI / 2,
    style: { text: 'Recall', font: '22px ' + FONT, fill: '#000', textAlign: 'center', textVerticalAlign: 'middle' }
})

const option = {
    animation: false,
    backgroundColor: '#fff',
    legend: {
        data: methods,
        orient: 'vertical',
        left: 990,
        top: 422,
        padding: [7, 10, 8, 10],
        itemWidth: 45,
        itemHeight: 14,
        itemGap: 12.3,
        borderColor: '#cccccc',
        borderWidth: 1,
        borderRadius: 4,
        selectedMode: false,
        // hide the marker, keep only the line sample
        itemStyle: { opacity: 0 },
        textStyle: { fontFamily: FONT, fontSize: 22, color: '#000', padding: [0, 0, 0, 10] }
    },
    grid,
    xAxis,
    yAxis,
    series,
    graphic
}

chart.setOption(option)
</script>
</body>
</html>
